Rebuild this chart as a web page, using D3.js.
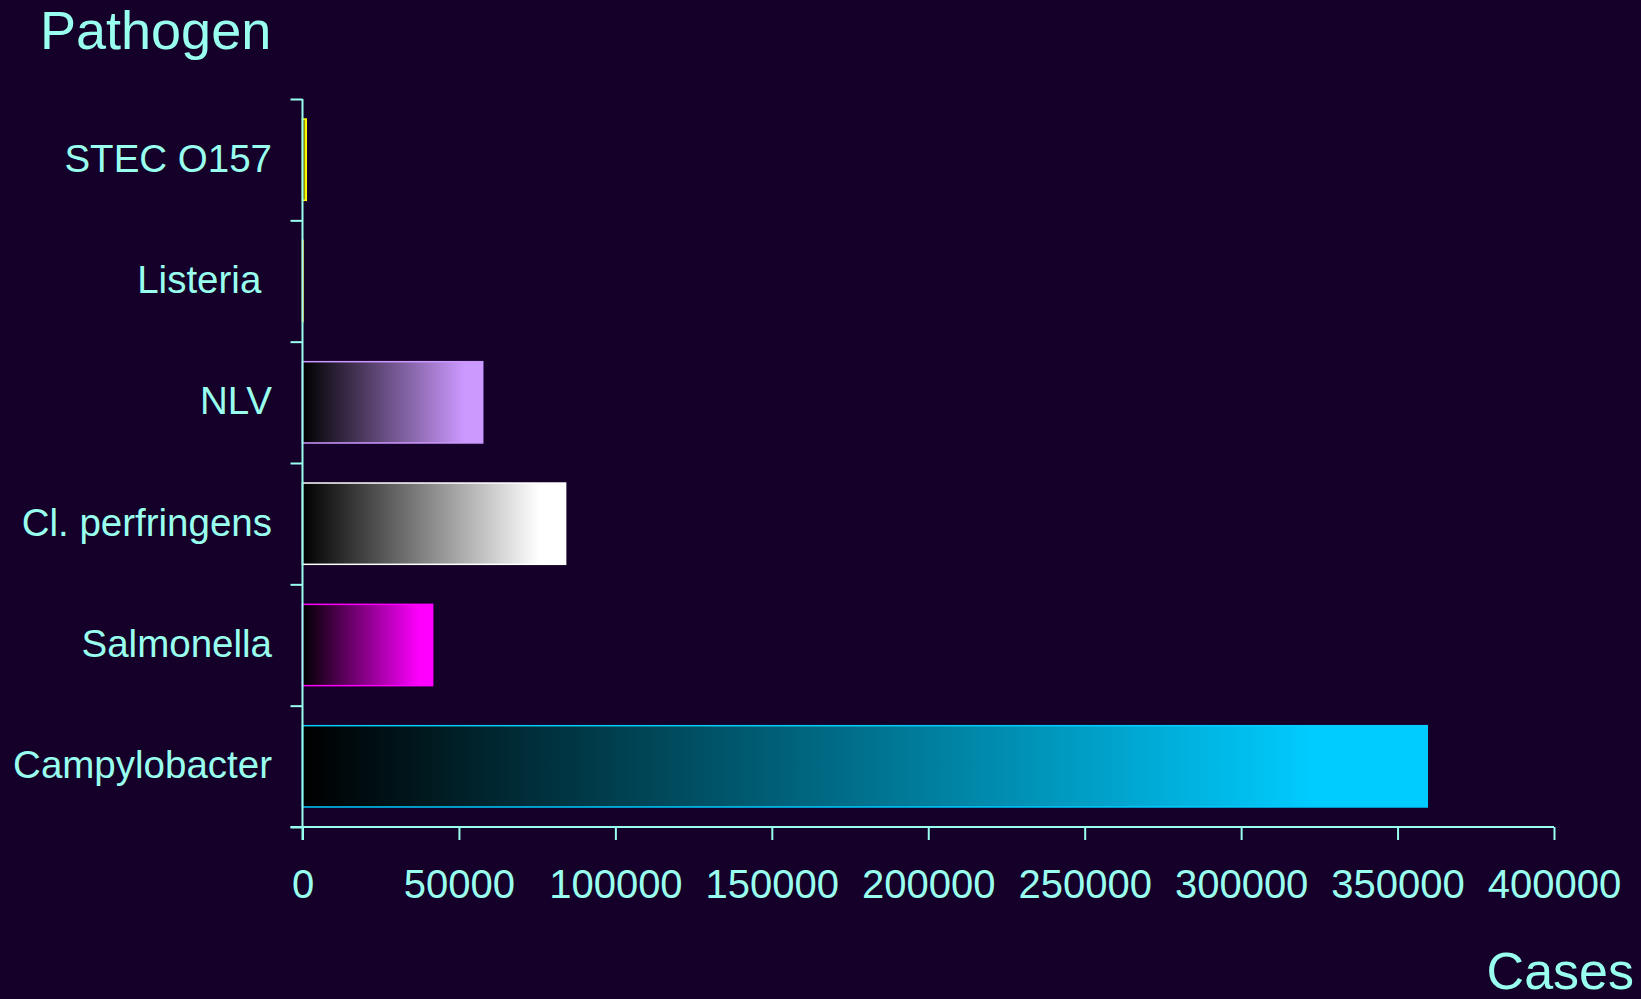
<!DOCTYPE html>
<html>
<head>
<meta charset="utf-8">
<script src="https://cdn.jsdelivr.net/npm/d3@7"></script>
<style>
    html, body { margin: 0; padding: 0; background: #140029; }
    svg { display: block; font-family: Arial, 'Liberation Sans', sans-serif; }
</style>
</head>
<body>
<svg id="chart" width="1641" height="999"></svg>
<script>
// categories top to bottom
var categories = [ 'STEC O157', 'Listeria\u00a0', 'NLV', 'Cl. perfringens', 'Salmonella', 'Campylobacter' ],
    cases = [ 1200, 194, 57600, 84100, 41600, 359500 ],
    barColors = [ '#ffff00', '#ff9900', '#cc99ff', '#ffffff', '#ff00ff', '#00ccff' ],
    xTicks = [ 0, 50000, 100000, 150000, 200000, 250000, 300000, 350000, 400000 ],
    yTitle = 'Pathogen',
    xTitle = 'Cases';

(function(){
    'use strict';

    var ink = '#99ffee',
        svg = d3.select( '#chart' ),
        defs = svg.append( 'defs' ),
        left = 302.5,
        right = 1554,
        top = 99,
        bottom = 827;

    var x = d3.scaleLinear()
        .domain( [0, 400000] )
        .range( [left, right] );

    var y = d3.scaleBand()
        .domain( categories )
        .range( [top, bottom] )
        .paddingInner( 0.33 )
        .paddingOuter( 0.165 );

    // band boundaries carry the ticks of the category axis
    var yEdge = d3.scaleLinear()
        .domain( [0, categories.length] )
        .range( [top, bottom] );

    // one horizontal gradient per bar, black to the bar colour
    barColors.forEach( function( c, i ){
        var g = defs.append( 'linearGradient' )
            .attr( 'id', 'grad' + i )
            .attr( 'x1', '0%' ).attr( 'x2', '100%' )
            .attr( 'y1', '0%' ).attr( 'y2', '0%' );

        g.append( 'stop' ).attr( 'offset', '0%' ).attr( 'stop-color', '#000000' );
        g.append( 'stop' ).attr( 'offset', '90%' ).attr( 'stop-color', c );
        g.append( 'stop' ).attr( 'offset', '100%' ).attr( 'stop-color', c );
    });

    svg.append( 'g' )
        .selectAll( 'rect' )
        .data( categories )
        .enter().append( 'rect' )
            .attr( 'x', x(0) )
            .attr( 'y', function( d ){ return y(d); } )
            .attr( 'width', function( d, i ){ return x(cases[i]) - x(0); } )
            .attr( 'height', y.bandwidth() )
            .attr( 'fill', function( d, i ){ return 'url(#grad' + i + ')'; } )
            .attr( 'stroke', function( d, i ){ return barColors[i]; } )
            .attr( 'stroke-width', 1.5 );

    // category axis
    var yAxis = svg.append( 'g' )
        .attr( 'transform', 'translate(' + left + ',0)' )
        .call(
            d3.axisLeft( yEdge )
                .tickValues( d3.range( categories.length + 1 ) )
                .tickFormat( '' )
                .tickSize( 12 )
                .tickSizeOuter( 0 )
        );

    yAxis.select( '.domain' ).remove();
    yAxis.append( 'line' )
        .attr( 'x1', 0 ).attr( 'x2', 0 )
        .attr( 'y1', top ).attr( 'y2', bottom + 13 );

    yAxis.selectAll( 'line' ).attr( 'stroke', ink ).attr( 'stroke-width', 2 );

    svg.append( 'g' )
        .selectAll( 'text' )
        .data( categories )
        .enter().append( 'text' )
            .attr( 'x', 272 )
            .attr( 'y', function( d ){ return y(d) + y.bandwidth() / 2; } )
            .attr( 'dy', '0.31em' )
            .attr( 'text-anchor', 'end' )
            .attr( 'fill', ink )
            .style( 'font-size', '38.5px' )
            .text( function( d ){ return d; } );

    // value axis
    var xAxis = svg.append( 'g' )
        .attr( 'transform', 'translate(0,' + bottom + ')' )
        .call(
            d3.axisBottom( x )
                .tickValues( xTicks )
                .tickFormat( d3.format( 'd' ) )
                .tickSize( 13 )
                .tickSizeOuter( 0 )
                .tickPadding( 30 )
        );

    xAxis.select( '.domain' ).remove();
    xAxis.append( 'line' )
        .attr( 'x1', left - 12 ).attr( 'x2', right )
        .attr( 'y1', 0 ).attr( 'y2', 0 );

    xAxis.selectAll( 'line' ).attr( 'stroke', ink ).attr( 'stroke-width', 2 );
    xAxis.selectAll( 'text' )
        .attr( 'fill', ink )
        .style( 'font-size', '40px' )
        .style( 'font-family', 'Arial, "Liberation Sans", sans-serif' );

    // titles
    svg.append( 'text' )
        .attr( 'x', 40 )
        .attr( 'y', 49 )
        .attr( 'fill', ink )
        .style( 'font-size', '54px' )
        .text( yTitle );

    svg.append( 'text' )
        .attr( 'x', 1634 )
        .attr( 'y', 989 )
        .attr( 'text-anchor', 'end' )
        .attr( 'fill', ink )
        .style( 'font-size', '52px' )
        .text( xTitle );
})();
</script>
</body>
</html>
